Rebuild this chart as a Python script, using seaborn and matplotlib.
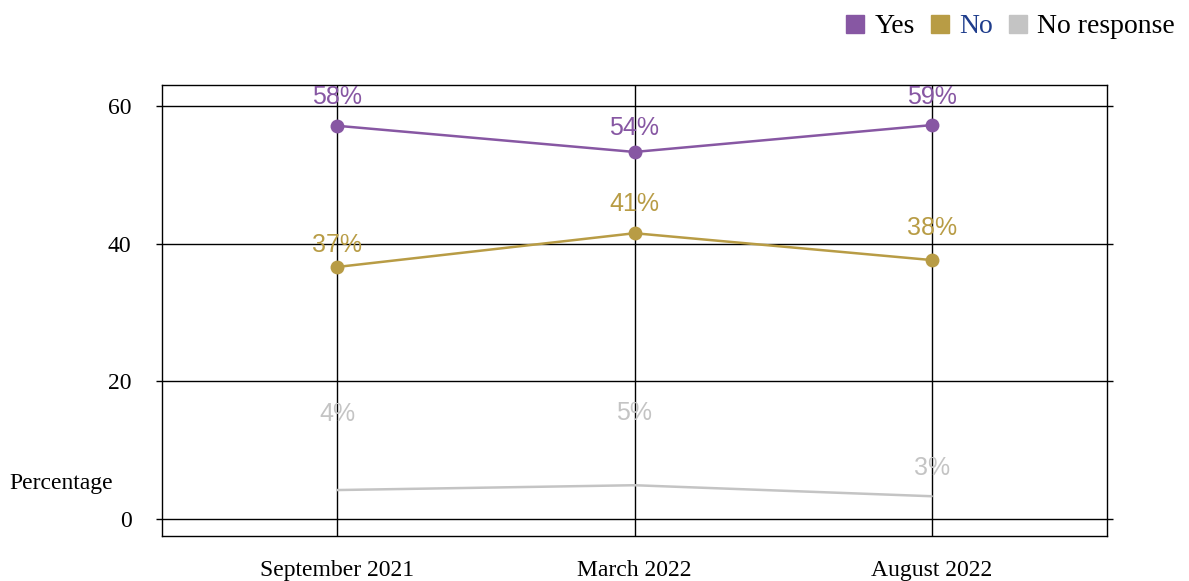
import pandas as pd
import matplotlib.pyplot as plt
import seaborn as sns
import numpy as np

periods = ['September 2021', 'March 2022', 'August 2022']
yes = [57.1, 53.3, 57.2]
no = [36.6, 41.5, 37.6]
no_response = [4.2, 4.9, 3.3]
yes_labels = ['58%', '54%', '59%']
no_labels = ['37%', '41%', '38%']
nr_labels = ['4%', '5%', '3%']

df = pd.DataFrame({'period': periods * 3,
                   'value': yes + no + no_response,
                   'answer': ['Yes'] * 3 + ['No'] * 3 + ['No response'] * 3})

colors = {'Yes': '#8757a3', 'No': '#b89c45', 'No response': '#c4c4c4'}
# text offsets above each point, in points
offsets = {'Yes': [21, 17, 20], 'No': [16, 21, 23], 'No response': [55, 52, 20]}
labels = {'Yes': yes_labels, 'No': no_labels, 'No response': nr_labels}

sns.set_style('white')
plt.rcParams['font.family'] = ['Liberation Serif', 'DejaVu Serif']
plt.rcParams['text.color'] = 'black'
plt.rcParams['xtick.color'] = 'black'
plt.rcParams['ytick.color'] = 'black'

fig = plt.figure(figsize=(11.89, 5.81), dpi=100)
ax = fig.add_axes([0.1363, 0.0775, 0.7947, 0.7765])

for ans in ['Yes', 'No', 'No response']:
    d = df[df['answer'] == ans]
    sns.lineplot(data=d, x='period', y='value', color=colors[ans], lw=1.8,
                 marker='o' if ans != 'No response' else None,
                 markersize=10, markeredgewidth=0, ax=ax, zorder=3)
    for i, (v, t) in enumerate(zip(d['value'], labels[ans])):
        ax.annotate(t, (i, v), xytext=(0, offsets[ans][i]), textcoords='offset points',
                    ha='center', va='center', color=colors[ans], fontsize=18,
                    family=['Liberation Sans', 'DejaVu Sans'], zorder=4)

ax.set_xlim(-0.59, 2.59)
ax.set_ylim(-2.47, 63.05)
ax.set_yticks([0, 20, 40, 60])
ax.grid(True, color='black', lw=1)
ax.set_axisbelow(True)
ax.set_xlabel('')
ax.set_ylabel('')
for s in ax.spines.values():
    s.set_color('black')
    s.set_linewidth(1)
ax.tick_params(axis='x', direction='out', length=9, width=1, color='#333333',
               labelsize=17, pad=8)
ax.tick_params(axis='y', direction='out', length=4, width=1, labelsize=17,
               right=True, left=True, pad=18)
fig.text(0.008, 0.168, 'Percentage', fontsize=17, ha='left', va='center')

handles = [plt.Line2D([], [], marker='s', ls='', color=colors[k], markersize=13)
           for k in ['Yes', 'No', 'No response']]
leg = fig.legend(handles, ['Yes', 'No', 'No response'], loc='upper right',
                 bbox_to_anchor=(1.0, 1.0), ncol=3, frameon=False, fontsize=20,
                 handlelength=0.8, handletextpad=0.3, columnspacing=0.5,
                 borderaxespad=0.1)
leg.get_texts()[1].set_color('#1f3d8c')

fig.savefig('out.png', dpi=100)
